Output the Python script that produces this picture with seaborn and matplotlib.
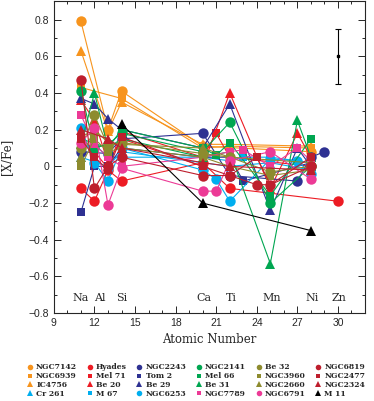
import numpy as np
import pandas as pd
import matplotlib
matplotlib.use('Agg')
import matplotlib.pyplot as plt
from matplotlib.lines import Line2D
from matplotlib.ticker import MultipleLocator
import seaborn as sns

# numeros atomicos dos elementos medidos
Z = [11, 12, 13, 14, 20, 21, 22, 23, 24, 25, 27, 28, 29, 30]
n = None

# [X/Fe] por aglomerado (None = sem medida)
ngc7142 = [0.79, n, 0.20, 0.41, 0.11, n, n, n, n, n, n, 0.08, n, n]
ngc6939 = [0.43, n, n, 0.37, 0.10, n, 0.11, n, n, n, n, 0.10, n, n]
ic4756 = [0.63, n, 0.19, 0.35, 0.12, n, 0.12, n, n, n, n, 0.11, n, n]
cr261 = [0.05, n, 0.00, 0.08, 0.02, n, 0.00, n, n, 0.02, n, -0.02, n, n]
hyades = [-0.12, -0.19, -0.02, -0.08, 0.02, n, -0.12, n, n, n, n, n, n, -0.19]
mel71 = [0.16, 0.08, -0.01, 0.19, 0.05, 0.18, 0.05, n, n, n, n, 0.00, n, n]
be20 = [0.36, 0.25, 0.02, 0.15, 0.00, n, 0.40, n, n, -0.12, 0.18, 0.05, n, n]
m67 = [0.10, 0.12, 0.05, 0.05, 0.05, n, 0.03, 0.05, n, 0.05, n, 0.02, n, n]
ngc2243 = [0.08, n, 0.07, 0.15, 0.18, n, -0.05, n, n, n, -0.08, 0.05, 0.08, n]
tom2 = [-0.25, 0.00, 0.00, 0.10, 0.05, n, 0.05, -0.08, n, n, n, 0.02, n, n]
be29 = [0.37, 0.34, 0.26, 0.20, 0.10, n, 0.34, n, n, -0.24, 0.10, 0.00, n, n]
ngc6253 = [0.21, 0.02, -0.08, 0.10, -0.02, -0.07, -0.19, n, n, 0.04, 0.03, -0.04, n, n]
ngc2141 = [0.41, 0.10, 0.12, 0.18, 0.08, n, 0.24, n, n, -0.20, n, 0.00, n, n]
mel66 = [0.15, n, 0.10, 0.20, 0.10, 0.06, 0.13, n, n, -0.16, n, 0.15, n, n]
be31 = [0.12, 0.40, 0.10, 0.15, 0.05, n, 0.08, n, n, -0.53, 0.25, 0.05, n, n]
ngc7789 = [0.28, 0.12, 0.05, 0.00, 0.05, n, 0.08, 0.09, n, 0.00, 0.10, 0.03, n, n]
be32 = [0.10, 0.28, 0.11, 0.13, 0.07, n, 0.05, n, n, -0.03, n, 0.00, n, n]
ngc3960 = [0.00, 0.15, 0.08, 0.10, 0.05, n, 0.00, n, n, -0.05, n, -0.02, n, n]
ngc2660 = [0.05, 0.20, 0.13, 0.12, 0.10, n, 0.05, n, n, n, n, 0.02, n, n]
ngc6791 = [0.13, 0.21, -0.21, -0.01, -0.135, -0.135, 0.03, n, n, 0.08, n, -0.07, n, n]
ngc6819 = [0.47, -0.12, 0.00, 0.05, -0.05, n, -0.05, n, -0.10, -0.10, n, 0.00, n, n]
ngc2477 = [0.15, 0.05, -0.02, 0.16, 0.00, n, -0.05, n, 0.05, -0.10, n, 0.05, n, n]
ngc2324 = [0.20, n, 0.15, 0.10, 0.02, n, 0.00, n, n, n, n, -0.02, n, n]
m11 = [n, n, n, 0.23, -0.20, n, n, n, n, n, n, -0.35, n, n]

nomes = ['NGC7142', 'NGC6939', 'IC4756', 'Cr 261',
         'Hyades', 'Mel 71', 'Be 20', 'M 67',
         'NGC2243', 'Tom 2', 'Be 29', 'NGC6253',
         'NGC2141', 'Mel 66', 'Be 31', 'NGC7789',
         'Be 32', 'NGC3960', 'NGC2660', 'NGC6791',
         'NGC6819', 'NGC2477', 'NGC2324', 'M 11']
valores = [ngc7142, ngc6939, ic4756, cr261, hyades, mel71, be20, m67,
           ngc2243, tom2, be29, ngc6253, ngc2141, mel66, be31, ngc7789,
           be32, ngc3960, ngc2660, ngc6791, ngc6819, ngc2477, ngc2324, m11]

# elementos escritos dentro do grafico
elementos = ['Na', 'Al', 'Si', 'Ca', 'Ti', 'Mn', 'Ni', 'Zn']
pos_elementos = [11, 12.4, 14, 20.1, 22.1, 25.1, 28.1, 30.1]

laranja = '#F7941D'
vermelho = '#ED1C24'
azul = '#2E3192'
ciano = '#00AEEF'
verde = '#00A651'
rosa = '#EC3A96'
oliva = '#8D8B2E'
vinho = '#BE1E2D'
cores = [laranja, laranja, laranja, ciano,
         vermelho, vermelho, vermelho, ciano,
         azul, azul, azul, ciano,
         verde, verde, verde, rosa,
         oliva, oliva, oliva, rosa,
         vinho, vinho, vinho, 'black']
marcadores = ['o', 's', '^', '^',
              'o', 's', '^', 's',
              'o', 's', '^', 'o',
              'o', 's', '^', 's',
              'o', 's', '^', 'o',
              'o', 's', '^', '^']
tamanhos = {'o': 7.5, 's': 6, '^': 7}

linhas = []
for nome, v in zip(nomes, valores):
    for z, x in zip(Z, v):
        if x is not None:
            linhas.append({'Aglomerado': nome, 'Z': z, 'XFe': x})
dados = pd.DataFrame(linhas)

sns.set_style('ticks')
fig = plt.figure(figsize=(3.74, 4.01), dpi=100)
ax = fig.add_axes([0.144, 0.219, 0.832, 0.778])

for nome, cor, mk in zip(nomes, cores, marcadores):
    sub = dados[dados['Aglomerado'] == nome]
    sns.lineplot(data=sub, x='Z', y='XFe', color=cor, marker=mk, ax=ax,
                 markersize=tamanhos[mk], linewidth=0.8, markeredgewidth=0,
                 sort=True, estimator=None, legend=False)

# barra de erro tipica
ax.errorbar([30], [0.6], yerr=[0.15], color='black', fmt='s', markersize=2,
            capsize=2.5, elinewidth=0.8, capthick=0.8)

for el, p in zip(elementos, pos_elementos):
    ax.text(p, -0.72, el, ha='center', va='center', fontsize=8,
            family='DejaVu Serif')

ax.set_xlim(9, 32)
ax.set_ylim(-0.8, 0.9)
ax.xaxis.set_major_locator(MultipleLocator(3))
ax.xaxis.set_minor_locator(MultipleLocator(1))
ax.yaxis.set_major_locator(MultipleLocator(0.2))
ax.yaxis.set_minor_locator(MultipleLocator(0.1))
ax.tick_params(which='both', direction='in', top=True, right=True,
               labelsize=7.5, width=0.7)
ax.tick_params(which='major', length=5)
ax.tick_params(which='minor', length=2.5)
for t in ax.get_xticklabels() + ax.get_yticklabels():
    t.set_family('Liberation Sans')
ax.set_yticks(np.arange(-0.8, 0.81, 0.2))
ax.set_yticklabels(['\u22120.8', '\u22120.6', '\u22120.4', '\u22120.2', '0',
                    '0.2', '0.4', '0.6', '0.8'], family='Liberation Sans')
for s in ax.spines.values():
    s.set_linewidth(0.8)

ax.set_xlabel('Atomic Number', fontsize=8.5, family='DejaVu Serif')
ax.set_ylabel('[X/Fe]', fontsize=8.5, family='DejaVu Serif')
ax.xaxis.set_label_coords(0.5, -0.065)
ax.yaxis.set_label_coords(-0.13, 0.5)

handles = [Line2D([], [], color=c, marker=m, linestyle='none',
                  markersize=4 if m != 's' else 3.2, markeredgewidth=0)
           for c, m in zip(cores, marcadores)]
fig.legend(handles, nomes, ncol=6, loc='upper left',
           bbox_to_anchor=(0.072, 0.094), frameon=False,
           prop={'family': 'DejaVu Serif', 'size': 5.5, 'weight': 'bold'},
           handlelength=0.8, handletextpad=0.4, columnspacing=1.25,
           labelspacing=0.12, borderpad=0, borderaxespad=0)

fig.savefig('out.png', dpi=100)
